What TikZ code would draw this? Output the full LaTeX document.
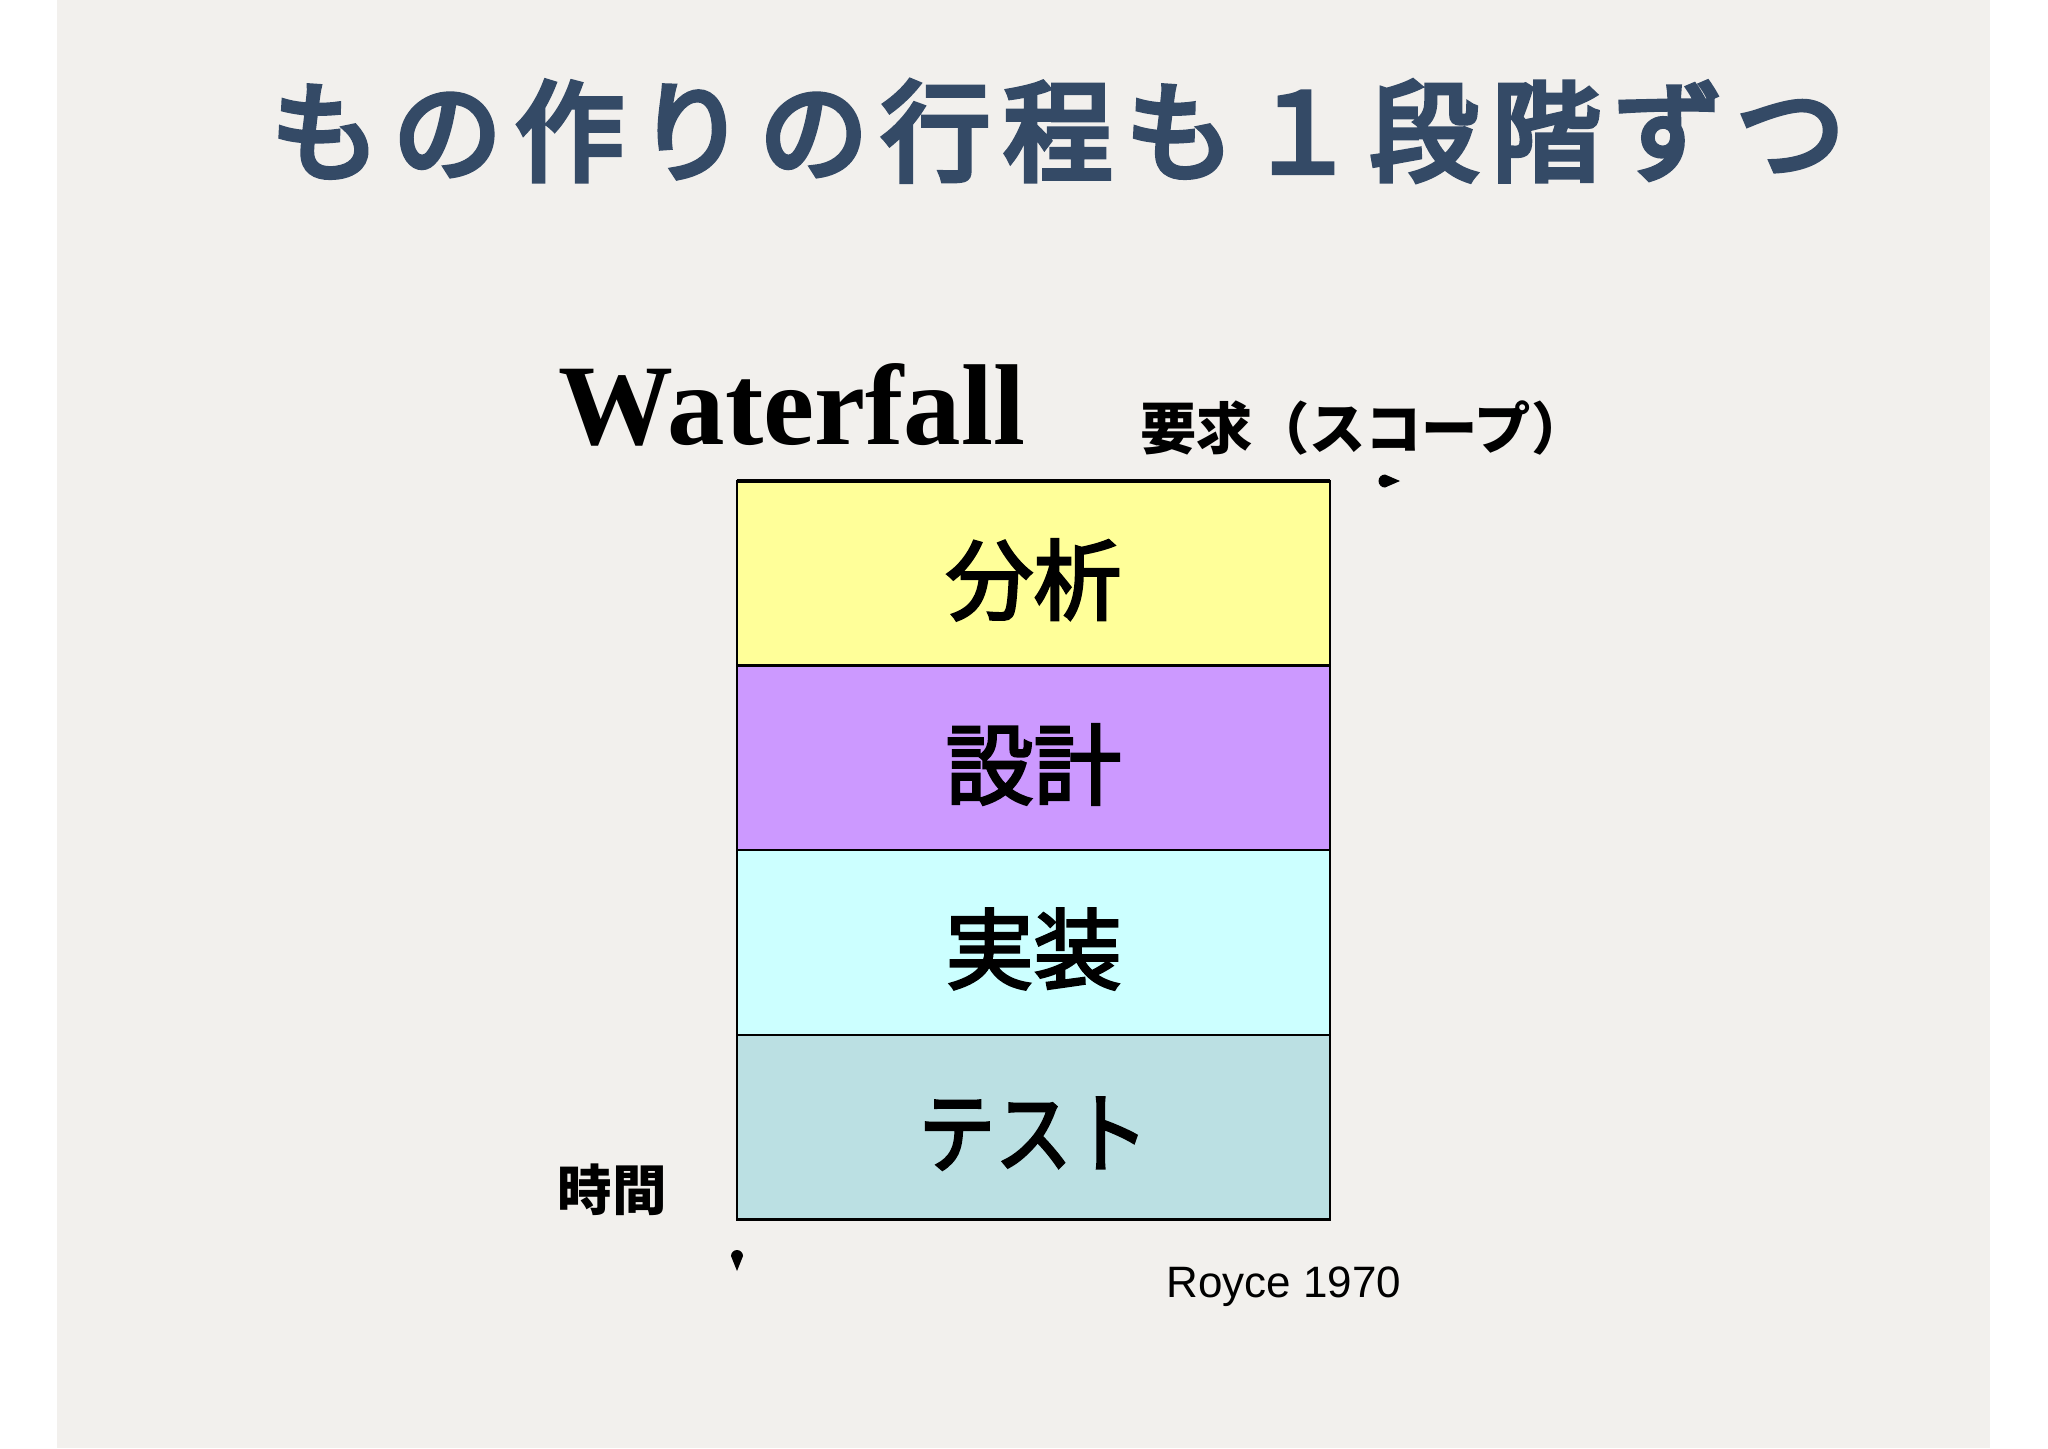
\documentclass[tikz,border=0pt]{standalone}
\usepackage{fontspec}
\newfontfamily\jp{Noto Sans CJK JP}
\newfontfamily\jpm{Noto Sans CJK JP}[FakeBold=3]
\newfontfamily\jpt{Noto Sans CJK JP}[FakeBold=5, LetterSpace=12]
\newfontfamily\serifb{Liberation Serif}
\newfontfamily\sansf{Liberation Sans}
\usetikzlibrary{arrows.meta,calc}
\definecolor{paper}{RGB}{242,240,237}
\definecolor{titleblue}{RGB}{52,74,102}
\definecolor{cyellow}{RGB}{255,255,153}
\definecolor{cpurple}{RGB}{204,153,255}
\definecolor{ccyan}{RGB}{204,255,255}
\definecolor{cteal}{RGB}{187,224,227}
\begin{document}
\begin{tikzpicture}[x=0.01cm,y=-0.01cm,
  stage/.style={draw=black, line width=0.7pt, minimum width=5.93cm, minimum height=1.845cm,
    inner sep=0pt, outer sep=0pt, anchor=north},
  lbl/.style={font=\jpm\fontsize{25}{25}\selectfont, inner sep=0pt, yshift=-0.65mm},
  lab/.style={font=\jp\bfseries\fontsize{15.5}{15.5}\selectfont, text=black, inner sep=0pt}]
\useasboundingbox (0,0) rectangle (2048,1448);
\fill[white] (0,0) rectangle (2048,1448);
\fill[paper] (57,0) rectangle (1990,1448);

\node[font=\jpt\fontsize{31}{31}\selectfont, text=titleblue, inner sep=0pt] (title) at (1058,131) {もの作りの行程も１段階ずつ};

\node[font=\serifb\bfseries\fontsize{32.7}{32.7}\selectfont, anchor=base, inner sep=0pt] (wf) at (792,444) {Waterfall};

\node[lab, font=\jp\bfseries\fontsize{16}{16}\selectfont] (scope) at (1364,428) {要求（スコープ）};
\node[lab] (time) at (612,1190) {時間};

\node[stage, fill=cyellow, label={[lbl, name=l1]center:分析}] (b1) at (1033.5,481) {};
\node[stage, fill=cpurple, label={[lbl, name=l2]center:設計}] (b2) at (b1.south) {};
\node[stage, fill=ccyan, label={[lbl, name=l3]center:実装}] (b3) at (b2.south) {};
\node[stage, fill=cteal, label={[lbl, name=l4]center:\scalebox{0.87}[1]{テスト}}] (b4) at (b3.south) {};
\draw[line width=1.1pt] (b1.north west) -- (b1.north east);

\coordinate (sb) at (1400,481);
\fill (sb) -- ($(sb)+(-15,-6.5)$) arc[start angle=270, end angle=90, radius=6.5] -- cycle;
\coordinate (tb) at (737,1271);
\fill (tb) -- ($(tb)+(-6,-15)$) arc[start angle=180, end angle=360, radius=6] -- cycle;

\node[font=\sansf\fontsize{12.5}{12.5}\selectfont, anchor=base west, inner sep=0pt] (royce) at (1166,1297) {Royce 1970};
\end{tikzpicture}
\end{document}
